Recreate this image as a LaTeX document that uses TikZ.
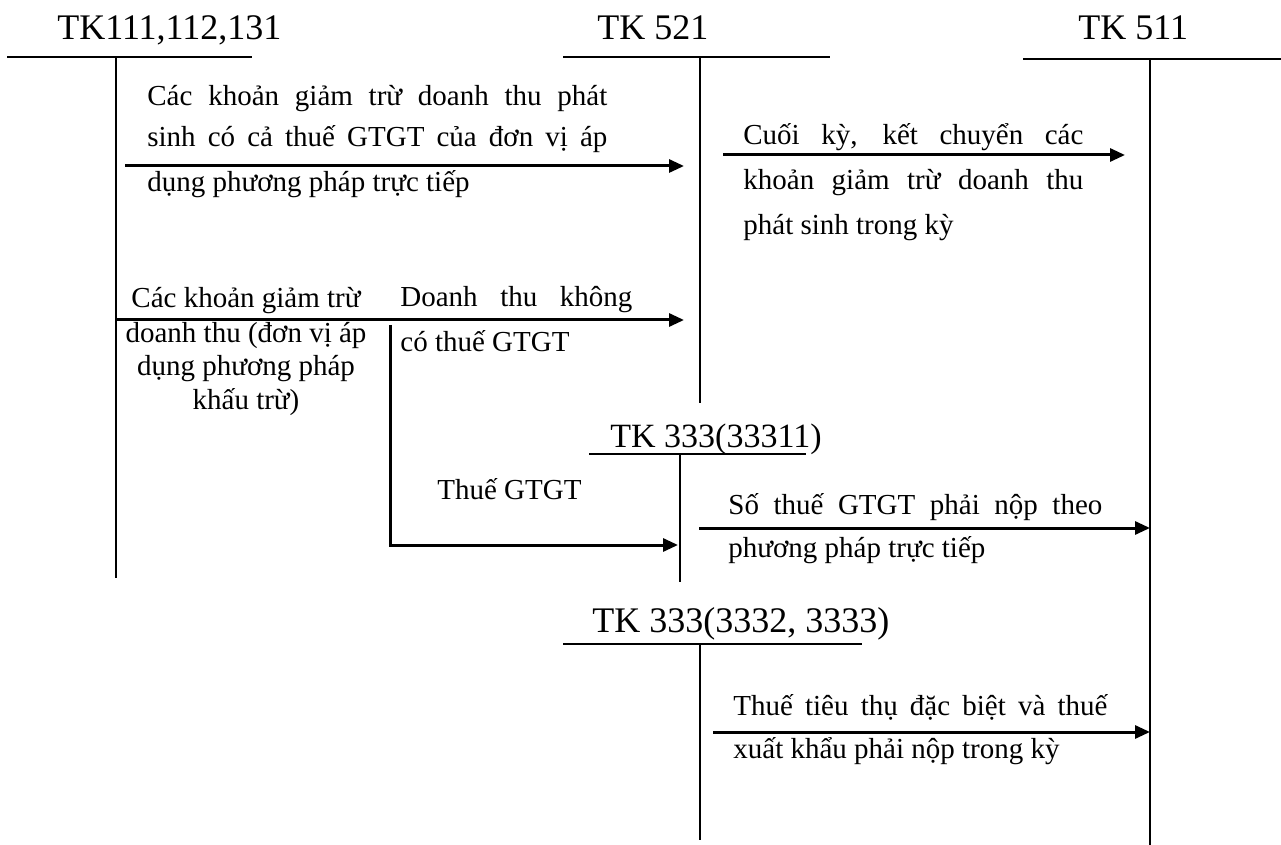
\documentclass[tikz,border=0pt]{standalone}
\usepackage{fontspec}
\setmainfont{Liberation Serif}
\usetikzlibrary{arrows.meta}
% a line of text spread to a fixed width
\newcommand\jline[2]{\makebox[#1][s]{#2}}
\begin{document}
\begin{tikzpicture}[x=0.5pt,y=-0.5pt,
  acct/.style={line width=1pt},
  flow/.style={line width=1.5pt,-{Triangle[length=7.5pt,width=6.5pt]}},
  title/.style={inner sep=0pt,anchor=base west,font=\fontsize{18}{22}\selectfont},
  subtitle/.style={title,font=\fontsize{17}{21}\selectfont},
  txt/.style={inner sep=0pt,anchor=base west,font=\fontsize{14.5}{17}\selectfont},
  ctxt/.style={txt,anchor=base},
]
\useasboundingbox[fill=white] (0,0) rectangle (1281,845);

% ---- T-account headings ----
\node[title] (t111) at (57,40) {TK111,112,131};
\node[title] (t521) at (597,40) {TK 521};
\node[title] (t511) at (1078,40) {TK 511};
\node[subtitle] (t3331) at (610,448) {TK 333(33311)};
\node[title] (t3332) at (592,632) {TK 333(3332, 3333)};

% ---- T-account frames ----
\coordinate (a111l) at (7,57);   \coordinate (a111r) at (252,57);
\coordinate (a111t) at (116,57); \coordinate (a111b) at (116,578);
\coordinate (a521l) at (563,57); \coordinate (a521r) at (830,57);
\coordinate (a521t) at (700,57); \coordinate (a521b) at (700,403);
\coordinate (a511l) at (1023,59); \coordinate (a511r) at (1281,59);
\coordinate (a511t) at (1150,59); \coordinate (a511b) at (1150,845);
\coordinate (a3331l) at (589,454); \coordinate (a3331r) at (806,454);
\coordinate (a3331t) at (680,454); \coordinate (a3331b) at (680,582);
\coordinate (a3332l) at (563,644); \coordinate (a3332r) at (862,644);
\coordinate (a3332t) at (700,644); \coordinate (a3332b) at (700,840);

\draw[acct] (a111l) -- (a111r) (a111t) -- (a111b);
\draw[acct] (a521l) -- (a521r) (a521t) -- (a521b);
\draw[acct] (a511l) -- (a511r) (a511t) -- (a511b);
\draw[acct] (a3331l) -- (a3331r) (a3331t) -- (a3331b);
\draw[acct] (a3332l) -- (a3332r) (a3332t) -- (a3332b);

% ---- flows ----
\coordinate (f1s) at (125,166);  \coordinate (f1e) at (684,166);
\coordinate (f2s) at (723,155);  \coordinate (f2e) at (1125,155);
\coordinate (f3s) at (115,320);  \coordinate (f3e) at (684,320);
\coordinate (f4s) at (390,325);  \coordinate (f4c) at (390,545);
\coordinate (f4e) at (678,545);
\coordinate (f5s) at (699,528);  \coordinate (f5e) at (1150,528);
\coordinate (f6s) at (713,732);  \coordinate (f6e) at (1150,732);

\draw[flow] (f1s) -- (f1e);
\draw[flow] (f2s) -- (f2e);
\draw[flow] (f3s) -- (f3e);
\draw[flow] (f4s) -- (f4c) -- (f4e);
\draw[flow] (f5s) -- (f5e);
\draw[flow] (f6s) -- (f6e);

% ---- flow labels ----
\node[txt] (l1a) at (147,106) {\jline{230pt}{Các khoản giảm trừ doanh thu phát}};
\node[txt] (l1b) at (147,147) {\jline{230pt}{sinh có cả thuế GTGT của đơn vị áp}};
\node[txt] (l1c) at (147,192) {dụng phương pháp trực tiếp};

\node[txt] (l2a) at (743,145) {\jline{170pt}{Cuối kỳ, kết chuyển các}};
\node[txt] (l2b) at (743,190) {\jline{170pt}{khoản giảm trừ doanh thu}};
\node[txt] (l2c) at (743,235) {phát sinh trong kỳ};

\node[ctxt] (l3a) at (246,308) {Các khoản giảm trừ};
\node[ctxt] (l3b) at (246,343) {doanh thu (đơn vị áp};
\node[ctxt] (l3c) at (246,376) {dụng phương pháp};
\node[ctxt] (l3d) at (246,410) {khấu trừ)};

\node[txt] (l4a) at (400,307) {\jline{116pt}{Doanh thu không}};
\node[txt] (l4b) at (400,352) {có thuế GTGT};

\node[txt] (l5) at (437,500) {Thuế GTGT};

\node[txt] (l6a) at (728,515) {\jline{187pt}{Số thuế GTGT phải nộp theo}};
\node[txt] (l6b) at (728,557) {phương pháp trực tiếp};

\node[txt] (l7a) at (733,715) {\jline{187pt}{Thuế tiêu thụ đặc biệt và thuế}};
\node[txt] (l7b) at (733,758) {xuất khẩu phải nộp trong kỳ};
\end{tikzpicture}
\end{document}
